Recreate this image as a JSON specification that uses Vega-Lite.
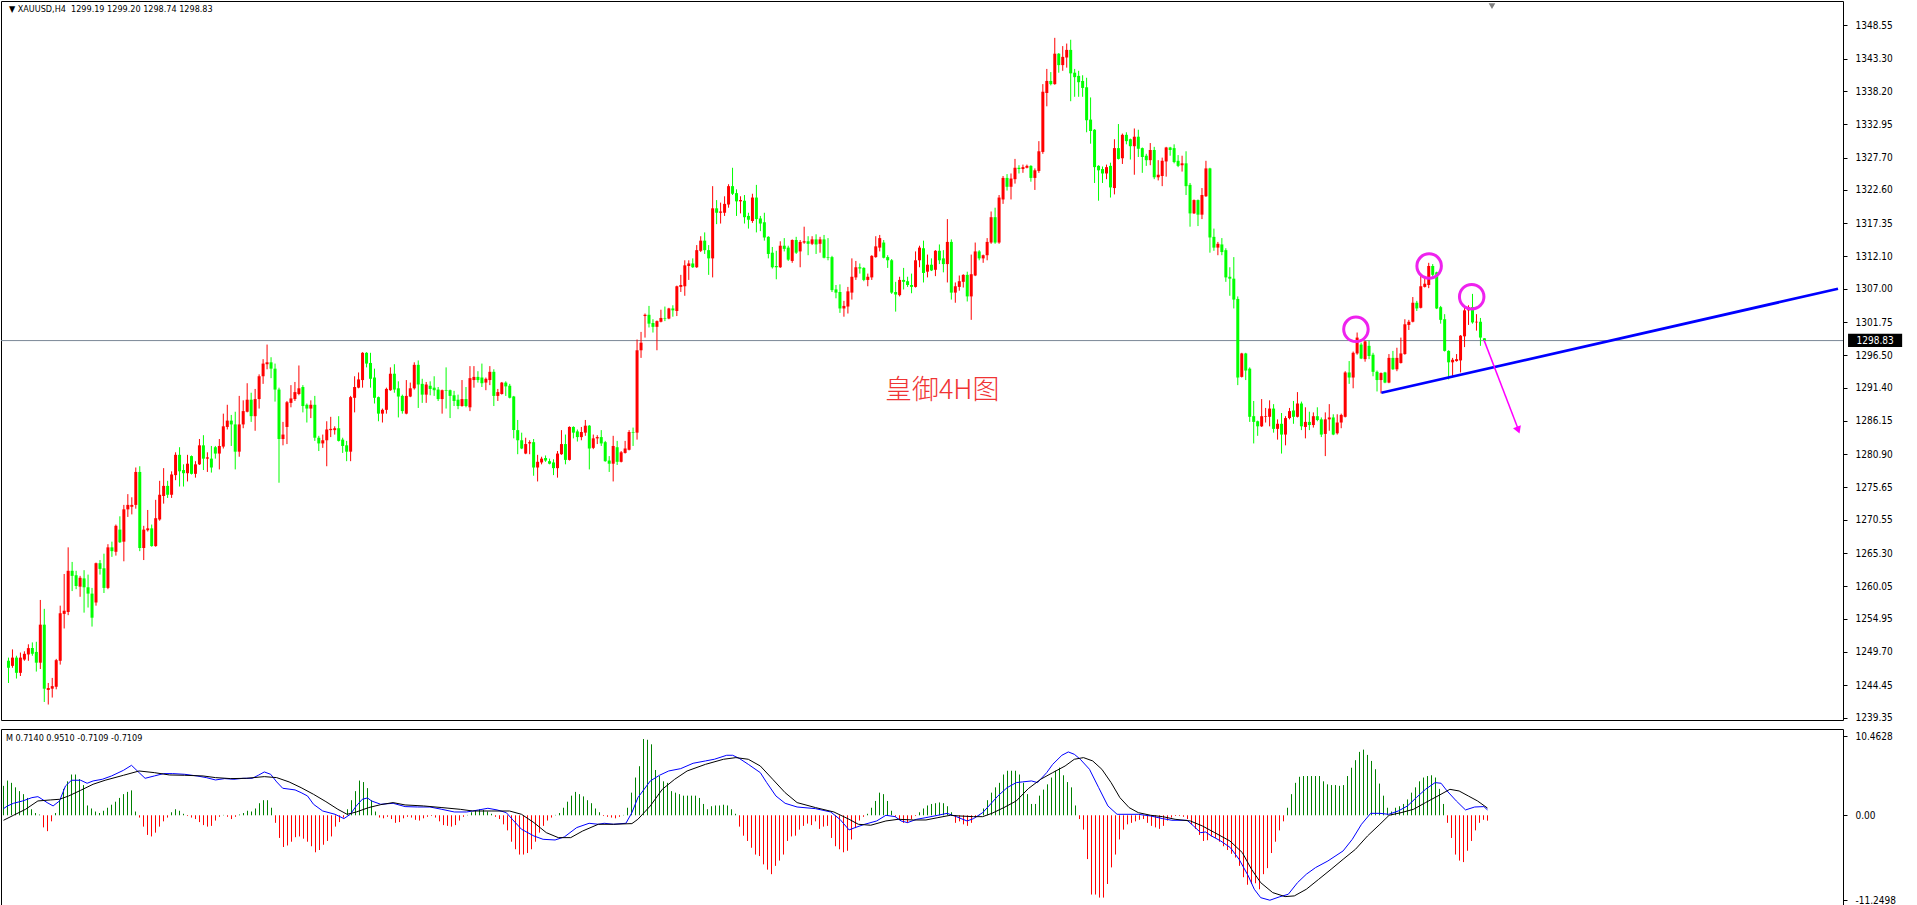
{
"$schema": "https://vega.github.io/schema/vega-lite/v6.json",
"padding": 0,
"background": "white",
"spacing": 4,
"config": {"view": {"stroke": "#000000", "strokeWidth": 1}, "axis": {"grid": false, "domain": false, "labelFont": "DejaVu Sans Condensed, DejaVu Sans", "labelFontSize": 10, "labelColor": "#000000", "tickColor": "#000000", "labelOverlap": false}},
"resolve": {"scale": {"x": "independent", "y": "independent"}},
"datasets": {
"candles": [
{"i":0,"o":1248.3,"h":1248.8,"l":1244.8,"c":1247.2,"m":3.9},
{"i":1,"o":1247.5,"h":1250.1,"l":1247.2,"c":1248.8,"m":4.6},
{"i":2,"o":1248.8,"h":1249.1,"l":1245.5,"c":1246.4,"m":4.3},
{"i":3,"o":1246.4,"h":1249.6,"l":1245.9,"c":1248.8,"m":3.7},
{"i":4,"o":1248.5,"h":1249.8,"l":1248.3,"c":1249.4,"m":3.2},
{"i":5,"o":1249.3,"h":1250.9,"l":1248.3,"c":1250.3,"m":2.8},
{"i":6,"o":1250.3,"h":1251.2,"l":1249.1,"c":1249.4,"m":2.3},
{"i":7,"o":1249.7,"h":1251.3,"l":1246.6,"c":1248.0,"m":0.8},
{"i":8,"o":1248.0,"h":1257.9,"l":1247.0,"c":1254.0,"m":0.3},
{"i":9,"o":1254.0,"h":1256.5,"l":1241.8,"c":1243.9,"m":0.1},
{"i":10,"o":1243.7,"h":1244.8,"l":1241.4,"c":1244.0,"m":-1.6},
{"i":11,"o":1243.9,"h":1245.6,"l":1242.5,"c":1244.3,"m":-2.1},
{"i":12,"o":1244.2,"h":1248.6,"l":1243.8,"c":1248.4,"m":-0.8},
{"i":13,"o":1248.3,"h":1257.0,"l":1247.7,"c":1255.8,"m":0.3},
{"i":14,"o":1255.7,"h":1262.0,"l":1253.4,"c":1256.2,"m":2.0},
{"i":15,"o":1256.0,"h":1266.2,"l":1255.5,"c":1262.5,"m":3.5},
{"i":16,"o":1262.5,"h":1263.9,"l":1259.3,"c":1261.7,"m":4.5},
{"i":17,"o":1261.8,"h":1262.5,"l":1259.6,"c":1260.1,"m":5.4},
{"i":18,"o":1260.0,"h":1261.7,"l":1258.4,"c":1261.4,"m":5.4},
{"i":19,"o":1261.3,"h":1262.6,"l":1255.9,"c":1259.9,"m":4.8},
{"i":20,"o":1259.9,"h":1261.9,"l":1256.7,"c":1258.9,"m":4.0},
{"i":21,"o":1258.9,"h":1259.8,"l":1253.7,"c":1255.1,"m":1.3},
{"i":22,"o":1257.5,"h":1263.8,"l":1257.0,"c":1263.7,"m":0.9},
{"i":23,"o":1263.7,"h":1264.2,"l":1261.9,"c":1262.8,"m":0.5},
{"i":24,"o":1262.9,"h":1265.2,"l":1259.0,"c":1259.8,"m":0.3},
{"i":25,"o":1259.8,"h":1266.7,"l":1259.6,"c":1266.2,"m":0.6},
{"i":26,"o":1266.2,"h":1267.1,"l":1264.7,"c":1265.6,"m":1.0},
{"i":27,"o":1265.5,"h":1269.8,"l":1264.9,"c":1269.6,"m":1.4},
{"i":28,"o":1269.0,"h":1271.1,"l":1266.9,"c":1267.0,"m":1.8},
{"i":29,"o":1267.1,"h":1272.9,"l":1264.0,"c":1272.2,"m":2.3},
{"i":30,"o":1272.2,"h":1274.6,"l":1271.0,"c":1272.9,"m":2.8},
{"i":31,"o":1272.6,"h":1274.1,"l":1271.4,"c":1272.9,"m":3.1},
{"i":32,"o":1272.9,"h":1278.8,"l":1272.3,"c":1278.1,"m":3.3},
{"i":33,"o":1278.1,"h":1279.0,"l":1265.6,"c":1266.1,"m":0.5},
{"i":34,"o":1266.1,"h":1269.6,"l":1264.2,"c":1269.0,"m":-0.3},
{"i":35,"o":1268.9,"h":1272.1,"l":1268.7,"c":1269.2,"m":-1.5},
{"i":36,"o":1269.2,"h":1269.8,"l":1266.3,"c":1266.4,"m":-2.6},
{"i":37,"o":1266.4,"h":1273.7,"l":1266.3,"c":1270.8,"m":-2.8},
{"i":38,"o":1270.6,"h":1276.7,"l":1270.4,"c":1274.5,"m":-2.3},
{"i":39,"o":1274.3,"h":1278.7,"l":1273.1,"c":1275.9,"m":-1.5},
{"i":40,"o":1275.9,"h":1276.7,"l":1274.0,"c":1274.5,"m":-0.8},
{"i":41,"o":1274.5,"h":1278.2,"l":1274.0,"c":1277.7,"m":-0.3},
{"i":42,"o":1277.6,"h":1281.2,"l":1276.8,"c":1280.8,"m":0.4},
{"i":43,"o":1280.8,"h":1282.0,"l":1275.8,"c":1278.2,"m":0.8},
{"i":44,"o":1278.4,"h":1279.3,"l":1275.8,"c":1277.9,"m":0.6},
{"i":45,"o":1277.9,"h":1280.8,"l":1276.6,"c":1279.4,"m":0.2},
{"i":46,"o":1280.6,"h":1280.7,"l":1277.7,"c":1277.8,"m":-0.1},
{"i":47,"o":1277.8,"h":1279.8,"l":1277.2,"c":1279.3,"m":-0.3},
{"i":48,"o":1279.3,"h":1283.3,"l":1279.2,"c":1282.3,"m":-0.5},
{"i":49,"o":1282.3,"h":1283.9,"l":1278.4,"c":1280.2,"m":-0.9},
{"i":50,"o":1280.2,"h":1281.2,"l":1278.1,"c":1280.4,"m":-1.3},
{"i":51,"o":1280.2,"h":1282.2,"l":1278.0,"c":1278.8,"m":-1.5},
{"i":52,"o":1282.0,"h":1282.2,"l":1280.2,"c":1281.0,"m":-1.4},
{"i":53,"o":1281.0,"h":1283.3,"l":1278.5,"c":1282.2,"m":-0.7},
{"i":54,"o":1282.1,"h":1287.3,"l":1281.8,"c":1285.3,"m":-0.2},
{"i":55,"o":1285.2,"h":1288.7,"l":1284.8,"c":1286.2,"m":0.05},
{"i":56,"o":1286.2,"h":1287.1,"l":1282.2,"c":1285.6,"m":-0.2},
{"i":57,"o":1285.6,"h":1287.6,"l":1278.5,"c":1281.3,"m":-0.5},
{"i":58,"o":1281.3,"h":1290.1,"l":1280.5,"c":1285.6,"m":-0.2},
{"i":59,"o":1285.6,"h":1289.4,"l":1285.0,"c":1287.7,"m":0.1},
{"i":60,"o":1287.6,"h":1292.1,"l":1287.5,"c":1289.5,"m":0.3},
{"i":61,"o":1289.5,"h":1290.6,"l":1286.0,"c":1286.9,"m":0.6},
{"i":62,"o":1286.9,"h":1291.2,"l":1284.6,"c":1289.6,"m":0.5},
{"i":63,"o":1289.6,"h":1293.5,"l":1288.1,"c":1293.2,"m":0.9},
{"i":64,"o":1293.2,"h":1295.9,"l":1292.0,"c":1295.2,"m":1.6},
{"i":65,"o":1295.1,"h":1298.2,"l":1294.3,"c":1295.4,"m":2.0},
{"i":66,"o":1295.4,"h":1296.2,"l":1292.9,"c":1294.4,"m":2.0},
{"i":67,"o":1294.4,"h":1295.2,"l":1289.2,"c":1291.1,"m":1.0},
{"i":68,"o":1291.1,"h":1291.4,"l":1276.4,"c":1283.3,"m":-1.0},
{"i":69,"o":1283.3,"h":1286.0,"l":1282.3,"c":1284.0,"m":-3.0},
{"i":70,"o":1285.2,"h":1289.3,"l":1282.5,"c":1289.1,"m":-4.2},
{"i":71,"o":1289.0,"h":1291.8,"l":1288.3,"c":1289.7,"m":-4.0},
{"i":72,"o":1289.6,"h":1292.3,"l":1289.3,"c":1290.7,"m":-3.5},
{"i":73,"o":1290.4,"h":1294.9,"l":1290.2,"c":1291.3,"m":-2.9},
{"i":74,"o":1291.5,"h":1291.8,"l":1287.5,"c":1288.5,"m":-2.8},
{"i":75,"o":1288.7,"h":1288.9,"l":1285.9,"c":1288.1,"m":-3.1},
{"i":76,"o":1288.1,"h":1289.4,"l":1286.6,"c":1288.7,"m":-3.5},
{"i":77,"o":1288.7,"h":1290.1,"l":1283.0,"c":1283.5,"m":-4.1},
{"i":78,"o":1283.5,"h":1283.8,"l":1281.4,"c":1282.6,"m":-4.9},
{"i":79,"o":1282.6,"h":1284.0,"l":1281.9,"c":1283.1,"m":-4.6},
{"i":80,"o":1283.1,"h":1286.1,"l":1279.0,"c":1284.8,"m":-3.9},
{"i":81,"o":1284.7,"h":1286.8,"l":1283.6,"c":1284.9,"m":-3.4},
{"i":82,"o":1284.7,"h":1285.3,"l":1284.0,"c":1285.0,"m":-2.8},
{"i":83,"o":1285.0,"h":1286.9,"l":1282.9,"c":1283.0,"m":-1.5},
{"i":84,"o":1283.2,"h":1283.5,"l":1281.1,"c":1282.2,"m":-0.9},
{"i":85,"o":1282.3,"h":1283.0,"l":1279.8,"c":1281.3,"m":-0.3},
{"i":86,"o":1281.3,"h":1290.1,"l":1279.8,"c":1289.9,"m":0.8},
{"i":87,"o":1289.8,"h":1293.2,"l":1287.5,"c":1291.5,"m":2.0},
{"i":88,"o":1291.4,"h":1293.8,"l":1291.3,"c":1292.7,"m":3.2},
{"i":89,"o":1292.6,"h":1297.0,"l":1291.4,"c":1296.9,"m":4.6},
{"i":90,"o":1296.9,"h":1297.0,"l":1294.6,"c":1295.2,"m":4.4},
{"i":91,"o":1295.3,"h":1296.9,"l":1291.4,"c":1292.8,"m":3.6},
{"i":92,"o":1293.0,"h":1294.4,"l":1288.9,"c":1289.8,"m":2.0},
{"i":93,"o":1289.9,"h":1290.0,"l":1286.1,"c":1287.3,"m":0.5},
{"i":94,"o":1287.3,"h":1288.1,"l":1285.9,"c":1287.9,"m":-0.3},
{"i":95,"o":1287.9,"h":1291.4,"l":1287.3,"c":1291.2,"m":-0.4},
{"i":96,"o":1291.0,"h":1294.6,"l":1290.9,"c":1293.6,"m":-0.2},
{"i":97,"o":1293.6,"h":1295.1,"l":1290.6,"c":1291.1,"m":-0.5},
{"i":98,"o":1291.3,"h":1292.4,"l":1286.7,"c":1290.0,"m":-1.0},
{"i":99,"o":1290.1,"h":1290.3,"l":1287.3,"c":1287.7,"m":-0.9},
{"i":100,"o":1287.3,"h":1292.6,"l":1287.2,"c":1290.1,"m":-0.4},
{"i":101,"o":1290.0,"h":1292.2,"l":1289.9,"c":1291.3,"m":-0.2},
{"i":102,"o":1291.3,"h":1295.4,"l":1291.1,"c":1295.0,"m":-0.3},
{"i":103,"o":1295.0,"h":1295.7,"l":1288.2,"c":1291.9,"m":-0.6},
{"i":104,"o":1292.0,"h":1292.8,"l":1289.0,"c":1290.3,"m":-0.7},
{"i":105,"o":1290.3,"h":1292.3,"l":1289.0,"c":1291.9,"m":-0.4},
{"i":106,"o":1291.7,"h":1292.4,"l":1290.2,"c":1291.2,"m":-0.2},
{"i":107,"o":1291.4,"h":1293.2,"l":1290.1,"c":1291.0,"m":-0.1},
{"i":108,"o":1291.1,"h":1291.5,"l":1289.3,"c":1289.6,"m":-0.3},
{"i":109,"o":1289.6,"h":1291.1,"l":1287.3,"c":1291.0,"m":-0.8},
{"i":110,"o":1291.0,"h":1294.6,"l":1288.1,"c":1290.9,"m":-1.3},
{"i":111,"o":1291.0,"h":1291.1,"l":1286.6,"c":1290.1,"m":-1.4},
{"i":112,"o":1290.2,"h":1290.9,"l":1288.5,"c":1289.3,"m":-1.5},
{"i":113,"o":1289.5,"h":1290.3,"l":1288.0,"c":1288.5,"m":-1.3},
{"i":114,"o":1288.5,"h":1292.6,"l":1288.4,"c":1289.6,"m":-0.7},
{"i":115,"o":1289.6,"h":1291.5,"l":1288.3,"c":1288.5,"m":-0.2},
{"i":116,"o":1288.3,"h":1294.8,"l":1287.7,"c":1292.9,"m":0.05},
{"i":117,"o":1292.6,"h":1294.8,"l":1291.4,"c":1293.1,"m":0.4},
{"i":118,"o":1293.1,"h":1294.0,"l":1292.2,"c":1292.6,"m":0.6},
{"i":119,"o":1293.0,"h":1295.2,"l":1291.5,"c":1292.1,"m":0.8},
{"i":120,"o":1292.2,"h":1293.0,"l":1291.0,"c":1292.8,"m":0.7},
{"i":121,"o":1292.6,"h":1294.8,"l":1291.8,"c":1293.9,"m":0.5},
{"i":122,"o":1293.9,"h":1294.3,"l":1288.5,"c":1290.1,"m":0.2},
{"i":123,"o":1290.1,"h":1291.2,"l":1289.3,"c":1290.7,"m":-0.2},
{"i":124,"o":1290.4,"h":1292.3,"l":1290.3,"c":1292.2,"m":-0.5},
{"i":125,"o":1292.2,"h":1292.4,"l":1290.1,"c":1291.6,"m":-1.2},
{"i":126,"o":1291.7,"h":1292.0,"l":1289.7,"c":1289.8,"m":-2.0},
{"i":127,"o":1290.0,"h":1290.1,"l":1283.4,"c":1284.7,"m":-3.5},
{"i":128,"o":1284.7,"h":1286.3,"l":1280.9,"c":1283.1,"m":-4.5},
{"i":129,"o":1283.1,"h":1284.3,"l":1281.7,"c":1281.8,"m":-5.2},
{"i":130,"o":1281.0,"h":1283.5,"l":1280.9,"c":1282.5,"m":-5.2},
{"i":131,"o":1282.6,"h":1283.1,"l":1280.9,"c":1282.8,"m":-5.0},
{"i":132,"o":1282.8,"h":1283.3,"l":1277.5,"c":1278.8,"m":-4.5},
{"i":133,"o":1278.8,"h":1280.8,"l":1276.6,"c":1279.7,"m":-3.5},
{"i":134,"o":1279.6,"h":1280.5,"l":1279.3,"c":1280.2,"m":-2.3},
{"i":135,"o":1280.3,"h":1280.7,"l":1279.7,"c":1279.9,"m":-1.4},
{"i":136,"o":1279.8,"h":1280.2,"l":1279.3,"c":1279.4,"m":-0.7},
{"i":137,"o":1279.6,"h":1280.1,"l":1277.6,"c":1278.7,"m":-0.3},
{"i":138,"o":1278.7,"h":1281.4,"l":1277.2,"c":1281.0,"m":0.05},
{"i":139,"o":1280.9,"h":1284.7,"l":1280.8,"c":1282.5,"m":0.3},
{"i":140,"o":1282.5,"h":1284.0,"l":1279.3,"c":1280.0,"m":1.0},
{"i":141,"o":1280.0,"h":1285.3,"l":1279.9,"c":1285.2,"m":1.8},
{"i":142,"o":1285.2,"h":1285.3,"l":1283.4,"c":1284.3,"m":2.6},
{"i":143,"o":1284.5,"h":1284.8,"l":1282.9,"c":1283.6,"m":3.1},
{"i":144,"o":1283.6,"h":1285.2,"l":1283.1,"c":1284.4,"m":2.8},
{"i":145,"o":1284.3,"h":1286.3,"l":1283.8,"c":1285.4,"m":2.5},
{"i":146,"o":1285.4,"h":1285.5,"l":1278.5,"c":1281.8,"m":2.0},
{"i":147,"o":1281.9,"h":1284.0,"l":1281.7,"c":1283.4,"m":1.6},
{"i":148,"o":1283.4,"h":1283.9,"l":1282.5,"c":1283.6,"m":0.9},
{"i":149,"o":1283.6,"h":1284.7,"l":1282.2,"c":1282.6,"m":0.4},
{"i":150,"o":1282.8,"h":1283.0,"l":1279.7,"c":1279.8,"m":-0.1},
{"i":151,"o":1279.9,"h":1280.6,"l":1278.1,"c":1279.4,"m":-0.2},
{"i":152,"o":1279.4,"h":1283.8,"l":1276.6,"c":1282.2,"m":-0.3},
{"i":153,"o":1282.0,"h":1283.0,"l":1279.2,"c":1279.7,"m":-0.4},
{"i":154,"o":1279.7,"h":1281.4,"l":1279.6,"c":1281.2,"m":-0.2},
{"i":155,"o":1281.1,"h":1283.0,"l":1281.0,"c":1281.8,"m":0.05},
{"i":156,"o":1281.6,"h":1284.7,"l":1281.5,"c":1284.4,"m":1.0},
{"i":157,"o":1284.4,"h":1285.1,"l":1282.2,"c":1284.3,"m":3.0},
{"i":158,"o":1284.3,"h":1299.0,"l":1283.2,"c":1297.3,"m":5.0},
{"i":159,"o":1297.3,"h":1300.2,"l":1296.1,"c":1298.5,"m":6.5},
{"i":160,"o":1302.7,"h":1303.1,"l":1299.3,"c":1302.9,"m":10.1},
{"i":161,"o":1302.9,"h":1304.3,"l":1300.9,"c":1301.5,"m":10.0},
{"i":162,"o":1301.6,"h":1302.2,"l":1300.1,"c":1301.0,"m":9.4},
{"i":163,"o":1301.0,"h":1302.0,"l":1297.3,"c":1301.9,"m":6.0},
{"i":164,"o":1301.8,"h":1303.7,"l":1301.7,"c":1302.4,"m":5.2},
{"i":165,"o":1302.4,"h":1304.2,"l":1301.9,"c":1302.3,"m":4.5},
{"i":166,"o":1302.3,"h":1304.0,"l":1302.2,"c":1303.9,"m":4.3},
{"i":167,"o":1303.9,"h":1304.4,"l":1302.6,"c":1303.6,"m":3.2},
{"i":168,"o":1303.5,"h":1307.5,"l":1302.7,"c":1307.4,"m":3.0},
{"i":169,"o":1307.3,"h":1309.2,"l":1306.5,"c":1307.6,"m":2.8},
{"i":170,"o":1307.4,"h":1311.5,"l":1305.9,"c":1310.7,"m":2.6},
{"i":171,"o":1310.6,"h":1311.5,"l":1308.4,"c":1311.0,"m":2.6},
{"i":172,"o":1311.0,"h":1311.8,"l":1310.3,"c":1310.4,"m":2.6},
{"i":173,"o":1310.4,"h":1313.9,"l":1310.3,"c":1313.1,"m":2.6},
{"i":174,"o":1313.0,"h":1315.3,"l":1312.8,"c":1314.6,"m":2.3},
{"i":175,"o":1314.6,"h":1315.9,"l":1312.5,"c":1313.1,"m":1.5},
{"i":176,"o":1313.1,"h":1313.9,"l":1309.2,"c":1311.8,"m":0.8},
{"i":177,"o":1311.8,"h":1323.2,"l":1308.8,"c":1319.7,"m":1.2},
{"i":178,"o":1319.7,"h":1321.0,"l":1317.2,"c":1319.0,"m":1.3},
{"i":179,"o":1319.0,"h":1320.6,"l":1317.3,"c":1319.2,"m":1.3},
{"i":180,"o":1319.0,"h":1321.6,"l":1318.5,"c":1320.4,"m":1.4},
{"i":181,"o":1320.3,"h":1323.5,"l":1319.8,"c":1323.2,"m":1.3},
{"i":182,"o":1323.2,"h":1326.1,"l":1321.8,"c":1322.0,"m":0.8},
{"i":183,"o":1322.1,"h":1322.7,"l":1318.5,"c":1320.8,"m":0.2},
{"i":184,"o":1320.8,"h":1321.6,"l":1318.9,"c":1321.0,"m":-1.5},
{"i":185,"o":1320.9,"h":1321.8,"l":1317.3,"c":1318.3,"m":-2.7},
{"i":186,"o":1318.5,"h":1319.0,"l":1316.5,"c":1317.9,"m":-3.4},
{"i":187,"o":1317.7,"h":1322.0,"l":1317.4,"c":1321.4,"m":-4.3},
{"i":188,"o":1321.4,"h":1323.4,"l":1315.9,"c":1318.0,"m":-5.2},
{"i":189,"o":1318.1,"h":1318.5,"l":1316.1,"c":1317.3,"m":-5.4},
{"i":190,"o":1317.5,"h":1319.0,"l":1314.6,"c":1315.1,"m":-6.5},
{"i":191,"o":1315.2,"h":1315.3,"l":1311.8,"c":1312.5,"m":-7.2},
{"i":192,"o":1312.7,"h":1313.6,"l":1310.2,"c":1310.4,"m":-7.8},
{"i":193,"o":1310.6,"h":1313.0,"l":1308.5,"c":1310.4,"m":-6.7},
{"i":194,"o":1310.4,"h":1314.5,"l":1310.3,"c":1313.8,"m":-6.0},
{"i":195,"o":1313.8,"h":1315.0,"l":1312.9,"c":1313.3,"m":-5.2},
{"i":196,"o":1313.5,"h":1313.8,"l":1311.4,"c":1311.6,"m":-3.4},
{"i":197,"o":1311.4,"h":1314.8,"l":1311.1,"c":1314.7,"m":-2.8},
{"i":198,"o":1314.7,"h":1315.2,"l":1312.5,"c":1312.7,"m":-2.7},
{"i":199,"o":1312.9,"h":1314.7,"l":1310.4,"c":1314.4,"m":-1.9},
{"i":200,"o":1314.3,"h":1316.8,"l":1314.1,"c":1314.5,"m":-1.4},
{"i":201,"o":1314.5,"h":1315.3,"l":1312.3,"c":1314.1,"m":-1.1},
{"i":202,"o":1314.1,"h":1315.3,"l":1313.9,"c":1314.8,"m":-1.3},
{"i":203,"o":1314.8,"h":1315.6,"l":1312.5,"c":1314.0,"m":-0.8},
{"i":204,"o":1314.1,"h":1315.2,"l":1312.7,"c":1314.8,"m":-1.8},
{"i":205,"o":1314.8,"h":1315.5,"l":1311.8,"c":1311.9,"m":-1.5},
{"i":206,"o":1312.0,"h":1315.0,"l":1311.5,"c":1311.9,"m":-1.4},
{"i":207,"o":1312.0,"h":1312.2,"l":1306.5,"c":1306.8,"m":-3.0},
{"i":208,"o":1306.9,"h":1307.6,"l":1305.5,"c":1306.4,"m":-4.1},
{"i":209,"o":1306.5,"h":1307.7,"l":1303.2,"c":1303.9,"m":-4.5},
{"i":210,"o":1303.9,"h":1305.1,"l":1302.6,"c":1304.3,"m":-4.9},
{"i":211,"o":1304.2,"h":1307.3,"l":1303.1,"c":1306.6,"m":-4.7},
{"i":212,"o":1306.4,"h":1311.8,"l":1305.3,"c":1308.9,"m":-3.2},
{"i":213,"o":1308.8,"h":1311.4,"l":1308.4,"c":1310.4,"m":-1.7},
{"i":214,"o":1310.4,"h":1311.0,"l":1309.4,"c":1310.2,"m":-0.7},
{"i":215,"o":1310.3,"h":1310.4,"l":1308.2,"c":1308.4,"m":-0.2},
{"i":216,"o":1308.4,"h":1309.4,"l":1307.4,"c":1308.9,"m":0.2},
{"i":217,"o":1308.8,"h":1312.3,"l":1308.4,"c":1312.2,"m":1.0},
{"i":218,"o":1312.0,"h":1315.3,"l":1311.9,"c":1313.7,"m":1.9},
{"i":219,"o":1313.5,"h":1315.5,"l":1312.9,"c":1315.0,"m":3.0},
{"i":220,"o":1314.3,"h":1314.7,"l":1311.8,"c":1311.9,"m":2.8},
{"i":221,"o":1312.0,"h":1312.3,"l":1310.3,"c":1311.5,"m":1.9},
{"i":222,"o":1311.5,"h":1311.7,"l":1306.2,"c":1306.4,"m":0.6},
{"i":223,"o":1306.5,"h":1308.1,"l":1303.4,"c":1306.1,"m":-0.2},
{"i":224,"o":1306.0,"h":1308.9,"l":1305.8,"c":1308.4,"m":-0.6},
{"i":225,"o":1308.4,"h":1310.3,"l":1306.9,"c":1308.1,"m":-1.0},
{"i":226,"o":1308.2,"h":1308.9,"l":1307.3,"c":1307.6,"m":-1.0},
{"i":227,"o":1307.6,"h":1309.4,"l":1306.3,"c":1307.3,"m":-0.5},
{"i":228,"o":1307.3,"h":1312.9,"l":1307.2,"c":1311.5,"m":-0.1},
{"i":229,"o":1311.5,"h":1313.8,"l":1310.4,"c":1313.5,"m":0.4},
{"i":230,"o":1313.4,"h":1314.6,"l":1308.0,"c":1309.5,"m":0.9},
{"i":231,"o":1309.7,"h":1312.4,"l":1308.8,"c":1310.8,"m":1.3},
{"i":232,"o":1310.8,"h":1311.8,"l":1309.8,"c":1309.9,"m":1.5},
{"i":233,"o":1310.0,"h":1313.1,"l":1309.0,"c":1313.0,"m":1.6},
{"i":234,"o":1313.0,"h":1314.0,"l":1310.9,"c":1311.5,"m":1.7},
{"i":235,"o":1311.8,"h":1313.1,"l":1309.6,"c":1310.9,"m":1.6},
{"i":236,"o":1310.9,"h":1318.0,"l":1308.0,"c":1314.4,"m":1.2},
{"i":237,"o":1314.4,"h":1314.8,"l":1305.3,"c":1306.4,"m":0.4},
{"i":238,"o":1306.4,"h":1308.0,"l":1304.8,"c":1307.4,"m":-1.0},
{"i":239,"o":1307.3,"h":1309.1,"l":1306.7,"c":1308.2,"m":-0.8},
{"i":240,"o":1308.1,"h":1309.3,"l":1307.2,"c":1309.2,"m":-1.2},
{"i":241,"o":1309.2,"h":1309.7,"l":1305.0,"c":1305.8,"m":-1.4},
{"i":242,"o":1305.8,"h":1312.4,"l":1302.1,"c":1309.3,"m":-1.0},
{"i":243,"o":1309.1,"h":1314.3,"l":1309.0,"c":1312.9,"m":-0.3},
{"i":244,"o":1312.9,"h":1313.1,"l":1311.5,"c":1311.8,"m":0.1},
{"i":245,"o":1311.8,"h":1312.4,"l":1311.1,"c":1312.3,"m":0.9},
{"i":246,"o":1312.3,"h":1315.0,"l":1311.5,"c":1314.4,"m":2.0},
{"i":247,"o":1314.3,"h":1319.2,"l":1314.1,"c":1318.3,"m":3.0},
{"i":248,"o":1318.3,"h":1319.8,"l":1314.1,"c":1314.3,"m":3.7},
{"i":249,"o":1314.3,"h":1321.8,"l":1314.1,"c":1321.4,"m":4.3},
{"i":250,"o":1321.1,"h":1324.8,"l":1320.4,"c":1324.5,"m":5.4},
{"i":251,"o":1324.5,"h":1325.1,"l":1322.5,"c":1323.1,"m":5.9},
{"i":252,"o":1323.1,"h":1325.2,"l":1321.1,"c":1324.4,"m":5.9},
{"i":253,"o":1324.3,"h":1327.5,"l":1323.6,"c":1326.1,"m":5.9},
{"i":254,"o":1326.1,"h":1326.5,"l":1325.2,"c":1325.9,"m":5.4},
{"i":255,"o":1325.9,"h":1326.6,"l":1325.3,"c":1326.2,"m":4.3},
{"i":256,"o":1326.1,"h":1326.6,"l":1326.0,"c":1326.4,"m":2.8},
{"i":257,"o":1326.4,"h":1326.5,"l":1323.9,"c":1324.5,"m":1.5},
{"i":258,"o":1324.5,"h":1326.0,"l":1322.6,"c":1325.7,"m":1.5},
{"i":259,"o":1325.6,"h":1330.3,"l":1325.3,"c":1328.7,"m":2.6},
{"i":260,"o":1328.6,"h":1339.3,"l":1328.3,"c":1338.1,"m":3.4},
{"i":261,"o":1337.9,"h":1341.7,"l":1335.8,"c":1339.8,"m":4.1},
{"i":262,"o":1339.8,"h":1341.2,"l":1339.1,"c":1339.3,"m":5.0},
{"i":263,"o":1339.3,"h":1346.6,"l":1339.2,"c":1344.1,"m":5.9},
{"i":264,"o":1344.1,"h":1344.2,"l":1341.1,"c":1342.3,"m":6.3},
{"i":265,"o":1342.3,"h":1345.3,"l":1341.4,"c":1343.6,"m":5.3},
{"i":266,"o":1343.5,"h":1345.7,"l":1341.9,"c":1344.7,"m":4.4},
{"i":267,"o":1344.7,"h":1346.3,"l":1336.6,"c":1341.0,"m":3.7},
{"i":268,"o":1341.1,"h":1341.7,"l":1337.3,"c":1340.4,"m":1.3},
{"i":269,"o":1340.6,"h":1341.4,"l":1337.3,"c":1339.6,"m":-0.5},
{"i":270,"o":1339.8,"h":1340.7,"l":1337.3,"c":1338.7,"m":-1.9},
{"i":271,"o":1338.8,"h":1340.3,"l":1331.7,"c":1333.6,"m":-5.8},
{"i":272,"o":1333.7,"h":1337.2,"l":1329.9,"c":1331.9,"m":-10.5},
{"i":273,"o":1332.1,"h":1332.2,"l":1323.7,"c":1326.2,"m":-10.5},
{"i":274,"o":1326.4,"h":1326.5,"l":1320.9,"c":1325.7,"m":-10.9},
{"i":275,"o":1325.9,"h":1326.3,"l":1323.7,"c":1325.2,"m":-10.9},
{"i":276,"o":1325.2,"h":1326.6,"l":1324.3,"c":1326.2,"m":-9.1},
{"i":277,"o":1326.4,"h":1326.9,"l":1321.4,"c":1323.0,"m":-6.9},
{"i":278,"o":1322.9,"h":1330.6,"l":1321.9,"c":1329.2,"m":-5.2},
{"i":279,"o":1329.2,"h":1333.0,"l":1327.4,"c":1327.5,"m":-3.2},
{"i":280,"o":1327.6,"h":1331.5,"l":1326.7,"c":1331.3,"m":-1.9},
{"i":281,"o":1331.3,"h":1331.7,"l":1329.8,"c":1330.3,"m":-1.2},
{"i":282,"o":1330.6,"h":1330.7,"l":1327.4,"c":1329.5,"m":-1.0},
{"i":283,"o":1329.5,"h":1332.3,"l":1325.0,"c":1331.0,"m":-0.8},
{"i":284,"o":1331.0,"h":1332.1,"l":1327.8,"c":1329.1,"m":-0.6},
{"i":285,"o":1329.2,"h":1329.3,"l":1325.3,"c":1327.8,"m":-0.5},
{"i":286,"o":1328.0,"h":1328.3,"l":1326.4,"c":1327.3,"m":-1.0},
{"i":287,"o":1327.3,"h":1330.0,"l":1326.5,"c":1328.9,"m":-1.4},
{"i":288,"o":1328.9,"h":1329.4,"l":1324.3,"c":1324.6,"m":-1.6},
{"i":289,"o":1324.6,"h":1327.3,"l":1324.1,"c":1325.0,"m":-1.8},
{"i":290,"o":1324.8,"h":1327.7,"l":1323.2,"c":1327.2,"m":-1.4},
{"i":291,"o":1327.1,"h":1329.4,"l":1324.7,"c":1329.3,"m":-0.7},
{"i":292,"o":1329.3,"h":1329.4,"l":1328.0,"c":1328.9,"m":-0.3},
{"i":293,"o":1329.2,"h":1329.8,"l":1326.8,"c":1327.0,"m":-0.1},
{"i":294,"o":1327.2,"h":1328.1,"l":1326.2,"c":1326.4,"m":-0.1},
{"i":295,"o":1326.5,"h":1328.0,"l":1325.5,"c":1326.8,"m":-0.2},
{"i":296,"o":1326.8,"h":1328.7,"l":1321.8,"c":1323.2,"m":-0.5},
{"i":297,"o":1323.4,"h":1323.7,"l":1316.8,"c":1318.9,"m":-1.2},
{"i":298,"o":1318.9,"h":1321.1,"l":1318.8,"c":1321.0,"m":-1.8},
{"i":299,"o":1321.0,"h":1321.1,"l":1316.9,"c":1318.7,"m":-2.6},
{"i":300,"o":1318.7,"h":1322.9,"l":1318.0,"c":1321.8,"m":-3.4},
{"i":301,"o":1321.6,"h":1327.2,"l":1321.5,"c":1326.0,"m":-3.3},
{"i":302,"o":1326.0,"h":1326.1,"l":1312.7,"c":1315.1,"m":-2.8},
{"i":303,"o":1315.2,"h":1316.5,"l":1313.0,"c":1313.5,"m":-3.0},
{"i":304,"o":1313.5,"h":1314.4,"l":1312.3,"c":1314.1,"m":-3.5},
{"i":305,"o":1314.0,"h":1315.0,"l":1312.3,"c":1312.8,"m":-4.1},
{"i":306,"o":1313.1,"h":1313.4,"l":1308.1,"c":1308.8,"m":-4.6},
{"i":307,"o":1308.9,"h":1310.4,"l":1305.9,"c":1308.6,"m":-5.1},
{"i":308,"o":1308.6,"h":1312.0,"l":1303.9,"c":1305.3,"m":-5.6},
{"i":309,"o":1305.4,"h":1305.8,"l":1291.8,"c":1293.0,"m":-6.7},
{"i":310,"o":1293.1,"h":1296.9,"l":1293.0,"c":1296.8,"m":-8.2},
{"i":311,"o":1296.8,"h":1296.9,"l":1292.6,"c":1294.1,"m":-9.2},
{"i":312,"o":1294.4,"h":1294.6,"l":1286.0,"c":1286.8,"m":-9.1},
{"i":313,"o":1286.9,"h":1289.3,"l":1282.6,"c":1286.0,"m":-9.0},
{"i":314,"o":1286.1,"h":1286.2,"l":1283.8,"c":1285.3,"m":-9.8},
{"i":315,"o":1285.3,"h":1289.6,"l":1285.2,"c":1286.9,"m":-7.8},
{"i":316,"o":1286.8,"h":1288.2,"l":1285.9,"c":1286.9,"m":-7.0},
{"i":317,"o":1286.8,"h":1289.4,"l":1285.3,"c":1288.1,"m":-5.0},
{"i":318,"o":1288.1,"h":1288.8,"l":1284.3,"c":1284.9,"m":-3.5},
{"i":319,"o":1284.9,"h":1286.4,"l":1283.2,"c":1285.7,"m":-2.0},
{"i":320,"o":1285.7,"h":1287.4,"l":1281.0,"c":1284.0,"m":-0.8},
{"i":321,"o":1284.0,"h":1286.9,"l":1282.3,"c":1286.6,"m":1.0},
{"i":322,"o":1286.6,"h":1288.2,"l":1286.4,"c":1287.7,"m":2.8},
{"i":323,"o":1287.8,"h":1289.3,"l":1285.7,"c":1286.8,"m":4.3},
{"i":324,"o":1286.8,"h":1290.7,"l":1286.7,"c":1288.9,"m":5.1},
{"i":325,"o":1288.9,"h":1289.2,"l":1284.7,"c":1285.3,"m":5.2},
{"i":326,"o":1285.2,"h":1288.3,"l":1283.4,"c":1286.0,"m":5.2},
{"i":327,"o":1286.0,"h":1287.6,"l":1284.7,"c":1285.5,"m":5.2},
{"i":328,"o":1285.5,"h":1287.5,"l":1285.1,"c":1286.9,"m":5.2},
{"i":329,"o":1286.9,"h":1288.3,"l":1286.1,"c":1286.3,"m":5.2},
{"i":330,"o":1286.4,"h":1286.7,"l":1283.6,"c":1284.0,"m":4.5},
{"i":331,"o":1284.1,"h":1287.5,"l":1280.6,"c":1286.4,"m":4.1},
{"i":332,"o":1286.4,"h":1288.8,"l":1284.6,"c":1286.7,"m":4.0},
{"i":333,"o":1286.7,"h":1287.2,"l":1283.9,"c":1284.0,"m":4.0},
{"i":334,"o":1284.2,"h":1287.2,"l":1284.0,"c":1285.9,"m":3.9},
{"i":335,"o":1285.9,"h":1287.3,"l":1285.0,"c":1287.1,"m":4.0},
{"i":336,"o":1286.8,"h":1294.0,"l":1286.7,"c":1293.8,"m":5.2},
{"i":337,"o":1293.8,"h":1295.6,"l":1292.0,"c":1293.0,"m":6.3},
{"i":338,"o":1293.0,"h":1297.1,"l":1291.3,"c":1296.9,"m":7.3},
{"i":339,"o":1296.8,"h":1300.1,"l":1296.6,"c":1299.3,"m":8.4},
{"i":340,"o":1298.2,"h":1298.5,"l":1295.9,"c":1296.0,"m":8.7},
{"i":341,"o":1295.9,"h":1298.8,"l":1295.5,"c":1298.7,"m":8.0},
{"i":342,"o":1298.0,"h":1298.8,"l":1295.9,"c":1296.4,"m":7.2},
{"i":343,"o":1296.6,"h":1296.9,"l":1293.2,"c":1293.9,"m":6.1},
{"i":344,"o":1293.9,"h":1294.1,"l":1290.8,"c":1292.6,"m":4.2},
{"i":345,"o":1292.6,"h":1293.8,"l":1290.5,"c":1293.7,"m":2.6},
{"i":346,"o":1293.8,"h":1293.9,"l":1292.1,"c":1292.2,"m":1.0},
{"i":347,"o":1292.2,"h":1296.7,"l":1292.1,"c":1296.1,"m":0.5},
{"i":348,"o":1296.1,"h":1297.2,"l":1294.2,"c":1294.3,"m":1.0},
{"i":349,"o":1294.3,"h":1297.7,"l":1294.0,"c":1296.1,"m":1.2},
{"i":350,"o":1295.3,"h":1299.3,"l":1295.2,"c":1296.8,"m":1.5},
{"i":351,"o":1296.7,"h":1302.2,"l":1296.6,"c":1301.4,"m":2.1},
{"i":352,"o":1301.3,"h":1302.1,"l":1300.5,"c":1301.8,"m":3.0},
{"i":353,"o":1301.8,"h":1305.7,"l":1301.7,"c":1304.8,"m":3.7},
{"i":354,"o":1304.8,"h":1305.1,"l":1303.5,"c":1303.9,"m":4.5},
{"i":355,"o":1304.0,"h":1309.3,"l":1303.9,"c":1307.4,"m":5.0},
{"i":356,"o":1307.3,"h":1308.7,"l":1307.2,"c":1307.8,"m":5.2},
{"i":357,"o":1307.6,"h":1311.1,"l":1307.1,"c":1310.6,"m":5.3},
{"i":358,"o":1310.6,"h":1310.9,"l":1308.7,"c":1309.2,"m":5.0},
{"i":359,"o":1309.6,"h":1309.7,"l":1303.8,"c":1303.9,"m":3.5},
{"i":360,"o":1304.1,"h":1304.3,"l":1301.5,"c":1302.1,"m":1.5},
{"i":361,"o":1302.2,"h":1303.0,"l":1297.1,"c":1297.2,"m":-1.0},
{"i":362,"o":1297.2,"h":1297.3,"l":1292.7,"c":1295.4,"m":-3.0},
{"i":363,"o":1295.4,"h":1296.1,"l":1293.1,"c":1295.8,"m":-5.2},
{"i":364,"o":1295.6,"h":1296.7,"l":1295.5,"c":1295.9,"m":-6.0},
{"i":365,"o":1295.7,"h":1299.7,"l":1293.8,"c":1299.6,"m":-6.2},
{"i":366,"o":1299.5,"h":1304.1,"l":1297.8,"c":1303.6,"m":-4.7},
{"i":367,"o":1303.6,"h":1304.4,"l":1301.3,"c":1304.1,"m":-3.4},
{"i":368,"o":1304.1,"h":1306.2,"l":1301.5,"c":1301.7,"m":-2.0},
{"i":369,"o":1301.7,"h":1303.0,"l":1300.4,"c":1301.8,"m":-1.0},
{"i":370,"o":1301.8,"h":1302.4,"l":1298.0,"c":1299.3,"m":-0.6},
{"i":371,"o":1299.19,"h":1299.2,"l":1298.74,"c":1298.83,"m":-0.7109}
],
"blue": [
{"i":0,"v":0.88},{"i":1,"v":1.24},{"i":2.5,"v":1.59},{"i":4.8,"v":1.9},{"i":7.1,"v":2.34},{"i":8.6,"v":2.47},{"i":9.4,"v":2.21},{"i":10.9,"v":1.68},{"i":12.4,"v":1.24},{"i":14,"v":1.9},{"i":15.5,"v":3.89},{"i":17,"v":4.64},{"i":19.3,"v":4.64},{"i":20.9,"v":4.24},{"i":22.4,"v":4.55},{"i":24.7,"v":4.77},{"i":27,"v":5.21},{"i":30,"v":5.96},{"i":32,"v":6.62},{"i":33.9,"v":5.65},{"i":35.4,"v":4.9},{"i":37.7,"v":5.21},{"i":40,"v":5.52},{"i":42.3,"v":5.52},{"i":45.3,"v":5.43},{"i":48.4,"v":5.21},{"i":50.7,"v":4.99},{"i":53,"v":4.68},{"i":55.3,"v":4.86},{"i":57.6,"v":4.77},{"i":59.9,"v":4.9},{"i":62.2,"v":4.9},{"i":63.7,"v":5.3},{"i":65.2,"v":5.74},{"i":66.8,"v":5.43},{"i":68.3,"v":4.42},{"i":69.8,"v":3.58},{"i":72.9,"v":3.36},{"i":74.4,"v":3.0},{"i":76,"v":2.56},{"i":77.5,"v":1.46},{"i":79.8,"v":0.57},{"i":82.9,"v":0.13},{"i":85.1,"v":-0.44},{"i":86.7,"v":0.13},{"i":88.2,"v":1.24},{"i":89.7,"v":2.12},{"i":91,"v":2.3},{"i":92,"v":1.9},{"i":94.3,"v":1.46},{"i":97.4,"v":1.59},{"i":100.4,"v":1.15},{"i":103.5,"v":1.1},{"i":106.6,"v":1.1},{"i":109.6,"v":0.79},{"i":112.7,"v":0.44},{"i":115.8,"v":0.44},{"i":118.8,"v":0.71},{"i":121.1,"v":0.93},{"i":123.4,"v":0.71},{"i":125.7,"v":0.35},{"i":127.2,"v":-0.53},{"i":129.5,"v":-1.85},{"i":132.6,"v":-2.74},{"i":134.9,"v":-3.18},{"i":137.9,"v":-3.27},{"i":140.2,"v":-2.87},{"i":143.3,"v":-1.63},{"i":146.4,"v":-1.06},{"i":148.7,"v":-1.19},{"i":150.2,"v":-1.06},{"i":152.5,"v":-1.19},{"i":155.6,"v":-1.06},{"i":157.1,"v":0.35},{"i":158.6,"v":2.34},{"i":161.7,"v":4.55},{"i":164,"v":5.3},{"i":166.3,"v":5.87},{"i":169.3,"v":6.18},{"i":172.4,"v":6.89},{"i":175.5,"v":7.2},{"i":177.7,"v":7.42},{"i":180.8,"v":7.95},{"i":182.3,"v":7.95},{"i":183.9,"v":7.55},{"i":186.2,"v":6.75},{"i":189.2,"v":5.65},{"i":190.8,"v":4.33},{"i":193.1,"v":2.56},{"i":195.4,"v":1.59},{"i":198.4,"v":1.1},{"i":203,"v":0.88},{"i":206.8,"v":0.44},{"i":209.1,"v":-0.53},{"i":211.4,"v":-1.94},{"i":212.9,"v":-1.63},{"i":215.3,"v":-1.19},{"i":218.3,"v":-0.75},{"i":220.6,"v":0},{"i":222.9,"v":-0.18},{"i":224.4,"v":-0.75},{"i":226,"v":-0.97},{"i":228.3,"v":-0.53},{"i":230.6,"v":-0.31},{"i":233.6,"v":0},{"i":235.9,"v":0.26},{"i":238.2,"v":-0.18},
{"i":239.4,"v":-0.44},{"i":240.9,"v":-0.75},{"i":242.5,"v":-0.44},{"i":244.8,"v":0.35},{"i":247.1,"v":1.68},{"i":248.6,"v":2.56},{"i":250.9,"v":3.66},{"i":253.2,"v":4.33},{"i":254.7,"v":4.42},{"i":257,"v":4.55},{"i":258.5,"v":4.33},{"i":260.8,"v":5.65},{"i":262.3,"v":6.75},{"i":264.6,"v":7.95},{"i":266.2,"v":8.39},{"i":267.7,"v":8.08},{"i":269.2,"v":7.42},{"i":271.5,"v":6.09},{"i":273.8,"v":3.66},{"i":276.1,"v":1.24},{"i":278.4,"v":0.13},{"i":283.7,"v":0.13},{"i":286.8,"v":-0.09},{"i":289.8,"v":-0.44},{"i":292.1,"v":-0.66},{"i":295.9,"v":-0.66},{"i":297.5,"v":-1.41},{"i":299.3,"v":-2.3},{"i":300.5,"v":-2.21},{"i":302,"v":-2.74},{"i":304.3,"v":-3.4},{"i":306.7,"v":-4.28},{"i":308.9,"v":-5.83},{"i":311.2,"v":-8.04},{"i":312.7,"v":-9.8},{"i":314.3,"v":-10.91},{"i":316.6,"v":-11.25},{"i":318.9,"v":-10.82},{"i":321.2,"v":-10.46},{"i":323.5,"v":-8.92},{"i":325.7,"v":-7.81},{"i":328,"v":-6.93},{"i":331.1,"v":-6.05},{"i":334.9,"v":-4.72},{"i":337.2,"v":-3.18},{"i":339.5,"v":-1.19},{"i":341.8,"v":0.26},{"i":344.1,"v":0.26},{"i":346.3,"v":0.13},{"i":348.7,"v":0.57},{"i":351,"v":1.24},{"i":353.2,"v":2.34},{"i":355.5,"v":3.44},{"i":357.9,"v":4.33},{"i":359.4,"v":4.24},{"i":360.9,"v":3.22},{"i":363.2,"v":1.9},{"i":365.5,"v":0.71},{"i":367.8,"v":1.1},{"i":370.1,"v":1.15},{"i":371,"v":0.714}
],
"black": [
{"i":0,"v":-0.66},{"i":2.5,"v":0},{"i":5.5,"v":0.79},{"i":8.6,"v":1.9},{"i":11.7,"v":2.03},{"i":14,"v":2.12},{"i":16.3,"v":2.56},{"i":19.3,"v":3.31},{"i":22.4,"v":4.11},{"i":25.4,"v":4.64},{"i":30,"v":5.3},{"i":33.9,"v":5.87},{"i":37.7,"v":5.65},{"i":41.5,"v":5.34},{"i":45.3,"v":5.3},{"i":49.9,"v":5.21},{"i":53,"v":4.99},{"i":56.8,"v":4.86},{"i":60.7,"v":4.9},{"i":65.2,"v":5.12},{"i":68.3,"v":4.99},{"i":71.4,"v":4.42},{"i":74.4,"v":3.66},{"i":77.5,"v":2.78},{"i":80.6,"v":1.81},{"i":83.6,"v":0.79},{"i":85.9,"v":0.13},{"i":88.2,"v":0.44},{"i":91.3,"v":1.02},{"i":94.3,"v":1.41},{"i":97.4,"v":1.68},{"i":100.4,"v":1.37},{"i":105,"v":1.24},{"i":109.6,"v":1.02},{"i":114.2,"v":0.79},{"i":117.3,"v":0.57},{"i":121.9,"v":0.57},{"i":126.5,"v":0.57},{"i":129.5,"v":0.13},{"i":132.6,"v":-0.97},{"i":135.7,"v":-2.3},{"i":138.7,"v":-2.96},{"i":141.8,"v":-2.96},{"i":144.8,"v":-2.08},{"i":148.7,"v":-1.19},{"i":152.5,"v":-1.19},{"i":157.1,"v":-1.1},{"i":158.6,"v":-0.53},{"i":161.7,"v":1.24},{"i":164.7,"v":3.44},{"i":167.8,"v":4.77},{"i":170.9,"v":5.87},{"i":175.5,"v":6.75},{"i":180,"v":7.42},{"i":183.1,"v":7.64},{"i":186.2,"v":7.42},{"i":189.2,"v":6.53},{"i":192.3,"v":4.77},{"i":195.4,"v":3.0},{"i":198.4,"v":1.68},{"i":203,"v":1.02},{"i":207.6,"v":0.44},{"i":211.4,"v":-0.53},{"i":213.7,"v":-1.19},{"i":216.8,"v":-1.32},{"i":220.6,"v":-0.75},{"i":223.7,"v":-0.53},{"i":227.5,"v":-0.62},{"i":230.6,"v":-0.62},{"i":233.6,"v":-0.31},{"i":236.7,"v":0},{"i":239,"v":-0.09},
{"i":242.5,"v":-0.18},{"i":244.8,"v":-0.18},{"i":247.1,"v":0.26},{"i":250.1,"v":1.02},{"i":253.2,"v":1.9},{"i":256.2,"v":3.53},{"i":259.3,"v":4.77},{"i":262.3,"v":5.65},{"i":265.4,"v":6.53},{"i":267.7,"v":7.42},{"i":270,"v":7.64},{"i":272.3,"v":7.2},{"i":274.6,"v":6.09},{"i":276.9,"v":4.33},{"i":279.1,"v":2.34},{"i":281.4,"v":1.02},{"i":283.7,"v":0.35},{"i":286.8,"v":0},{"i":289.8,"v":-0.18},{"i":292.9,"v":-0.53},{"i":296.7,"v":-0.75},{"i":299.7,"v":-1.41},{"i":302.8,"v":-2.3},{"i":306.6,"v":-3.4},{"i":309.7,"v":-4.94},{"i":312,"v":-7.15},{"i":314.3,"v":-8.92},{"i":317.3,"v":-10.24},{"i":320.4,"v":-10.77},{"i":322.7,"v":-10.68},{"i":325.7,"v":-9.8},{"i":328.8,"v":-8.48},{"i":331.9,"v":-7.15},{"i":334.9,"v":-5.83},{"i":338,"v":-4.5},{"i":341,"v":-2.74},{"i":344.1,"v":-1.19},{"i":346.4,"v":0},{"i":349.4,"v":0.35},{"i":352.5,"v":0.79},{"i":355.5,"v":1.68},{"i":358.6,"v":2.56},{"i":361.6,"v":3.44},{"i":363.9,"v":3.22},{"i":366.2,"v":2.56},{"i":368.5,"v":1.9},{"i":371,"v":0.951}
]
},
"vconcat": [
{
"width": 1842,
"height": 719,
"layer": [
{"data": {"values": [{"p": 1298.83}]}, "mark": {"type": "rule", "color": "#7a8796", "strokeWidth": 1},
 "encoding": {"y": {"field": "p", "type": "quantitative", "title": null, "scale": {"domain": [1238.957, 1352.416], "nice": false, "zero": false},
   "axis": {"orient": "right", "title": null, "values": [1348.55,1343.3,1338.2,1332.95,1327.7,1322.6,1317.35,1312.1,1307.0,1301.75,1296.5,1291.4,1286.15,1280.9,1275.65,1270.55,1265.3,1260.05,1254.95,1249.7,1244.45,1239.35], "tickCount": 200, "format": ".2f", "tickSize": 4, "labelPadding": 8, "labelOverlap": false, "labelFlush": false, "labelBound": false}}}},
{"data": {"name": "candles"}, "mark": {"type": "rule", "strokeWidth": 1},
 "encoding": {"x": {"field": "i", "type": "quantitative", "scale": {"domain": [-0.625, 459.875], "nice": false, "zero": false}, "axis": null},
  "y": {"field": "l", "type": "quantitative", "title": null, "scale": {"domain": [1238.957, 1352.416], "nice": false, "zero": false},
   "axis": {"orient": "right", "title": null, "values": [1348.55,1343.3,1338.2,1332.95,1327.7,1322.6,1317.35,1312.1,1307.0,1301.75,1296.5,1291.4,1286.15,1280.9,1275.65,1270.55,1265.3,1260.05,1254.95,1249.7,1244.45,1239.35], "tickCount": 200, "format": ".2f", "tickSize": 4, "labelPadding": 8, "labelOverlap": false, "labelFlush": false, "labelBound": false}},
  "y2": {"field": "h"},
  "color": {"condition": {"test": "datum.c >= datum.o", "value": "#ff0000"}, "value": "#00ff00"}}},
{"data": {"name": "candles"}, "mark": {"type": "bar", "width": 3},
 "encoding": {"x": {"field": "i", "type": "quantitative", "axis": null},
  "y": {"field": "o", "type": "quantitative", "title": null,
   "axis": {"orient": "right", "title": null, "values": [1348.55,1343.3,1338.2,1332.95,1327.7,1322.6,1317.35,1312.1,1307.0,1301.75,1296.5,1291.4,1286.15,1280.9,1275.65,1270.55,1265.3,1260.05,1254.95,1249.7,1244.45,1239.35], "tickCount": 200, "format": ".2f", "tickSize": 4, "labelPadding": 8, "labelOverlap": false, "labelFlush": false, "labelBound": false}},
  "y2": {"field": "c"},
  "color": {"condition": {"test": "datum.c >= datum.o", "value": "#ff0000"}, "value": "#00ff00"}}},
{"data": {"values": [{"i": 345.1, "p": 1290.6}, {"i": 459.875, "p": 1307.0}]}, "mark": {"type": "line", "color": "#0000ff", "strokeWidth": 2.7},
 "encoding": {"x": {"field": "i", "type": "quantitative", "axis": null}, "y": {"field": "p", "type": "quantitative", "title": null}}},
{"data": {"values": [{"i": 370.9, "p": 1298.9}, {"i": 379.4, "p": 1285.0}]}, "mark": {"type": "line", "color": "#ff00ff", "strokeWidth": 1.5},
 "encoding": {"x": {"field": "i", "type": "quantitative", "axis": null}, "y": {"field": "p", "type": "quantitative", "title": null}}},
{"data": {"values": [{"i": 379.5, "p": 1284.7}]}, "mark": {"type": "point", "shape": "triangle-down", "filled": true, "color": "#ff00ff", "size": 70, "angle": 339, "opacity": 1},
 "encoding": {"x": {"field": "i", "type": "quantitative", "axis": null}, "y": {"field": "p", "type": "quantitative", "title": null}}},
{"data": {"values": [{"i": 338.7, "p": 1300.61}, {"i": 357.1, "p": 1310.6}, {"i": 367.8, "p": 1305.75}]}, "mark": {"type": "point", "shape": "circle", "filled": false, "color": "#ee22ee", "strokeWidth": 3, "size": 600, "opacity": 1},
 "encoding": {"x": {"field": "i", "type": "quantitative", "axis": null}, "y": {"field": "p", "type": "quantitative", "title": null}}},
{"data": {"values": [{"i": 0.125, "p": 1351.15, "t": "▼ XAUUSD,H4\u00a0\u00a01299.19 1299.20 1298.74 1298.83"}]}, "mark": {"type": "text", "align": "left", "baseline": "middle", "font": "DejaVu Sans Condensed, DejaVu Sans", "fontSize": 9, "color": "#000000"},
 "encoding": {"x": {"field": "i", "type": "quantitative", "axis": null}, "y": {"field": "p", "type": "quantitative", "title": null}, "text": {"field": "t"}}},
{"data": {"values": [{"i": 220.3, "p": 1290.9, "t": "皇御4H图"}]}, "mark": {"type": "text", "align": "left", "baseline": "middle", "font": "Noto Sans CJK SC", "fontSize": 27, "fontWeight": 300, "color": "#f03434"},
 "encoding": {"x": {"field": "i", "type": "quantitative", "axis": null}, "y": {"field": "p", "type": "quantitative", "title": null}, "text": {"field": "t"}}},
{"data": {"values": [{"i": 462.4, "i2": 476.0, "p": 1299.9, "p2": 1297.8}]}, "mark": {"type": "rect", "color": "#000000"},
 "encoding": {"x": {"field": "i", "type": "quantitative", "axis": null}, "x2": {"field": "i2"}, "y": {"field": "p", "type": "quantitative", "title": null}, "y2": {"field": "p2"}}},
{"data": {"values": [{"i": 469.2, "p": 1298.83, "t": "1298.83"}]}, "mark": {"type": "text", "align": "center", "baseline": "middle", "font": "DejaVu Sans Condensed, DejaVu Sans", "fontSize": 10, "color": "#ffffff"},
 "encoding": {"x": {"field": "i", "type": "quantitative", "axis": null}, "y": {"field": "p", "type": "quantitative", "title": null}, "text": {"field": "t"}}},
{"data": {"values": [{"i": 372.9, "p": 1351.6}]}, "mark": {"type": "point", "shape": "triangle-down", "filled": true, "color": "#808080", "size": 45, "opacity": 1},
 "encoding": {"x": {"field": "i", "type": "quantitative", "axis": null}, "y": {"field": "p", "type": "quantitative", "title": null}}}
]
},
{
"width": 1842,
"height": 179,
"layer": [
{"data": {"name": "candles"}, "mark": {"type": "rule", "strokeWidth": 1},
 "encoding": {"x": {"field": "i", "type": "quantitative", "title": null, "scale": {"domain": [-0.625, 459.875], "nice": false, "zero": false},
   "axis": {"orient": "bottom", "title": null, "values": [16,32,48,64,80,96,112,128,144,160,176,192,208,224,240,256,272,288,304,320,336,352,368], "tickCount": 200, "labels": false, "tickSize": 4}},
  "y": {"field": "m", "type": "quantitative", "title": null, "scale": {"domain": [-12.28, 11.43], "nice": false, "zero": false},
   "axis": {"orient": "right", "title": null, "values": [10.4628, 0, -11.2498], "tickCount": 200, "labelExpr": "datum.value == 0 ? '0.00' : (datum.value < 0 ? '-11.2498' : '10.4628')", "tickSize": 4, "labelPadding": 8, "labelOverlap": false, "labelFlush": false, "labelBound": false}},
  "y2": {"datum": 0},
  "color": {"condition": {"test": "datum.m >= 0", "value": "#008000"}, "value": "#ff0000"}}},
{"data": {"name": "blue"}, "mark": {"type": "line", "color": "#0000ff", "strokeWidth": 1},
 "encoding": {"x": {"field": "i", "type": "quantitative", "title": null}, "y": {"field": "v", "type": "quantitative", "title": null}}},
{"data": {"name": "black"}, "mark": {"type": "line", "color": "#000000", "strokeWidth": 1},
 "encoding": {"x": {"field": "i", "type": "quantitative", "title": null}, "y": {"field": "v", "type": "quantitative", "title": null}}},
{"data": {"values": [{"i": 0.6, "v": 10.3, "t": "M 0.7140 0.9510 -0.7109 -0.7109"}]}, "mark": {"type": "text", "align": "left", "baseline": "middle", "font": "DejaVu Sans Condensed, DejaVu Sans", "fontSize": 9, "color": "#000000"},
 "encoding": {"x": {"field": "i", "type": "quantitative", "title": null}, "y": {"field": "v", "type": "quantitative", "title": null}, "text": {"field": "t"}}}
]
}
]
}
